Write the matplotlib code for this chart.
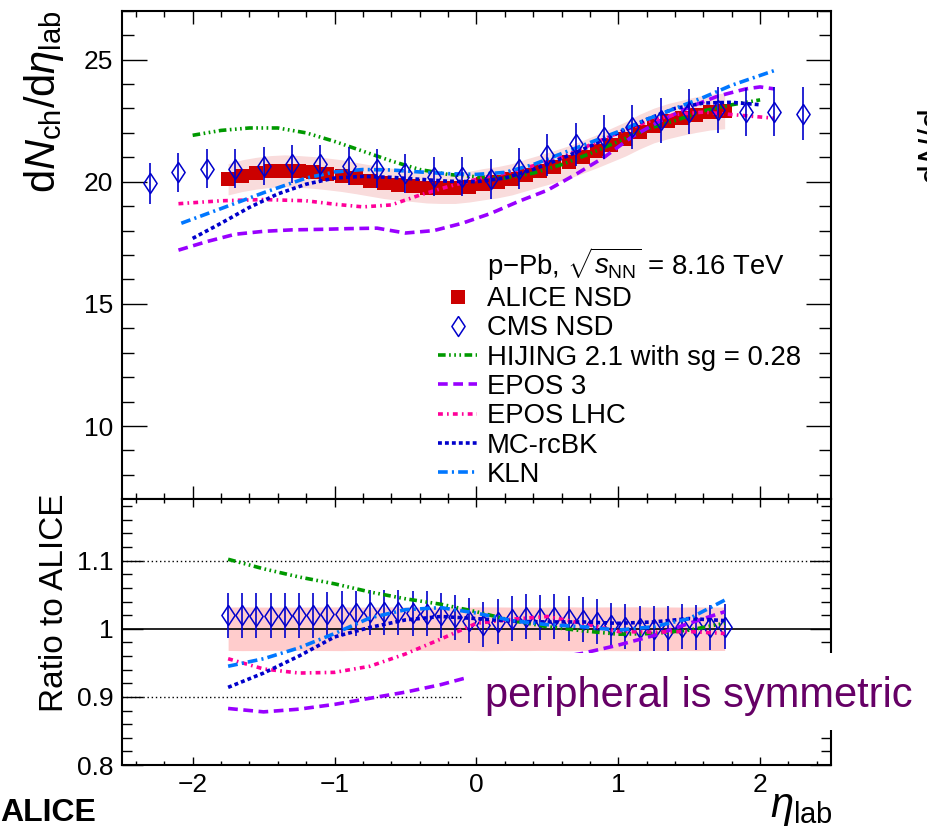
import matplotlib
matplotlib.use("Agg")
import matplotlib.pyplot as plt
from matplotlib.lines import Line2D
from matplotlib.patches import Rectangle

plt.rcParams["font.family"] = ["Liberation Sans", "DejaVu Sans"]
plt.rcParams["mathtext.fontset"] = "custom"
plt.rcParams["mathtext.rm"] = "Liberation Sans"
plt.rcParams["mathtext.it"] = "Liberation Sans:italic"
plt.rcParams["mathtext.bf"] = "Liberation Sans:bold"
plt.rcParams["lines.scale_dashes"] = False

# ---- data ----
alice_x = [-1.75, -1.65, -1.55, -1.45, -1.35, -1.25, -1.15, -1.05, -0.95, -0.85,
           -0.75, -0.65, -0.55, -0.45, -0.35, -0.25, -0.15, -0.05, 0.05, 0.15,
           0.25, 0.35, 0.45, 0.55, 0.65, 0.75, 0.85, 0.95, 1.05, 1.15,
           1.25, 1.35, 1.45, 1.55, 1.65, 1.75]
alice_y = [20.10, 20.25, 20.35, 20.42, 20.45, 20.42, 20.38, 20.32, 20.25, 20.15,
           20.05, 19.95, 19.88, 19.82, 19.76, 19.74, 19.74, 19.80, 19.90, 19.98,
           20.10, 20.28, 20.45, 20.62, 20.80, 21.02, 21.25, 21.50, 21.75, 22.05,
           22.30, 22.48, 22.62, 22.75, 22.85, 22.90]
alice_sys = [0.64, 0.65, 0.65, 0.65, 0.65, 0.65, 0.65, 0.65, 0.65, 0.64,
             0.64, 0.64, 0.64, 0.63, 0.63, 0.63, 0.63, 0.63, 0.64, 0.64,
             0.64, 0.65, 0.65, 0.66, 0.67, 0.67, 0.68, 0.69, 0.70, 0.71,
             0.71, 0.72, 0.72, 0.73, 0.73, 0.73]

cms_x = [-2.3, -2.1, -1.9, -1.7, -1.5, -1.3, -1.1, -0.9, -0.7, -0.5, -0.3, -0.1,
         0.1, 0.3, 0.5, 0.7, 0.9, 1.1, 1.3, 1.5, 1.7, 1.9, 2.1, 2.3]
cms_y = [19.93, 20.38, 20.54, 20.54, 20.65, 20.72, 20.72, 20.65, 20.54, 20.34, 20.20, 20.20,
         20.13, 20.54, 21.09, 21.54, 21.83, 22.24, 22.52, 22.86, 22.93, 22.86, 22.86, 22.79]
cms_err = [0.85, 0.80, 0.80, 0.80, 0.78, 0.78, 0.78, 0.78, 0.78, 0.80, 0.80, 0.80,
           0.82, 0.85, 0.86, 0.88, 0.90, 0.92, 0.92, 0.92, 0.95, 0.98, 1.00, 1.10]

hijing_x = [-2.0, -1.8, -1.6, -1.4, -1.2, -1.0, -0.8, -0.6, -0.4, -0.2, 0.0,
            0.2, 0.4, 0.6, 0.8, 1.0, 1.2, 1.4, 1.6, 1.8, 2.0]
hijing_y = [21.9, 22.1, 22.2, 22.2, 22.0, 21.65, 21.25, 20.85, 20.5, 20.3, 20.2,
            20.15, 20.35, 20.7, 21.15, 21.65, 22.15, 22.5, 22.9, 23.15, 23.35]

epos3_x = [-2.1, -1.9, -1.7, -1.5, -1.3, -1.1, -0.9, -0.7, -0.5, -0.3, -0.1,
           0.1, 0.3, 0.5, 0.7, 0.9, 1.1, 1.3, 1.5, 1.7, 1.9, 2.0, 2.1]
epos3_y = [17.2, 17.55, 17.85, 17.97, 18.03, 18.05, 18.08, 18.1, 17.9, 18.0, 18.3,
           18.7, 19.2, 19.65, 20.3, 21.0, 21.85, 22.5, 23.05, 23.5, 23.8, 23.88, 23.8]

eposlhc_x = [-2.1, -1.8, -1.5, -1.2, -1.0, -0.8, -0.6, -0.4, -0.2, 0.0, 0.2,
             0.4, 0.6, 0.8, 1.0, 1.2, 1.4, 1.6, 1.8, 2.0, 2.1]
eposlhc_y = [19.1, 19.22, 19.27, 19.22, 19.08, 18.97, 19.05, 19.45, 19.8, 20.1, 20.35,
             20.65, 21.0, 21.5, 22.0, 22.45, 22.75, 22.85, 22.75, 22.65, 22.6]

rcbk_x = [-2.0, -1.8, -1.6, -1.4, -1.2, -1.0, -0.8, -0.6, -0.4, -0.2, 0.0,
          0.2, 0.4, 0.6, 0.8, 1.0, 1.2, 1.4, 1.6, 1.8, 2.0]
rcbk_y = [17.68, 18.3, 18.95, 19.5, 19.9, 20.15, 20.22, 20.18, 20.1, 20.02, 20.0,
          20.15, 20.5, 20.95, 21.45, 22.0, 22.55, 23.0, 23.22, 23.25, 23.15]

kln_x = [-2.08, -1.8, -1.5, -1.2, -1.0, -0.8, -0.6, -0.4, -0.2, 0.0, 0.2,
         0.4, 0.6, 0.8, 1.0, 1.2, 1.4, 1.6, 1.8, 2.0, 2.1]
kln_y = [18.3, 18.9, 19.55, 20.15, 20.4, 20.5, 20.48, 20.4, 20.33, 20.3, 20.38,
         20.7, 21.15, 21.6, 22.05, 22.55, 23.0, 23.45, 23.95, 24.35, 24.55]

# ratio panel
cms_ratio = [1.020, 1.020, 1.019, 1.019, 1.019, 1.020, 1.020, 1.021, 1.022, 1.023,
             1.024, 1.024, 1.024, 1.023, 1.022, 1.020, 1.017, 1.012, 1.006, 1.010,
             1.015, 1.018, 1.016, 1.018, 1.015, 1.013, 1.010, 1.005, 1.003, 1.001,
             1.000, 1.000, 1.003, 1.002, 1.002, 1.003]
cms_ratio_err = 0.033

ratio_x = [-1.75, -1.5, -1.25, -1.0, -0.75, -0.5, -0.25, 0.0, 0.25, 0.5, 0.75, 1.0, 1.25, 1.5, 1.75]
hijing_r = [1.102, 1.088, 1.076, 1.066, 1.054, 1.044, 1.036, 1.025, 1.012, 1.003, 0.997, 0.992, 0.993, 0.998, 1.008]
epos3_r = [0.883, 0.878, 0.882, 0.889, 0.898, 0.907, 0.918, 0.932, 0.945, 0.955, 0.964, 0.976, 0.990, 1.008, 1.025]
eposlhc_r = [0.956, 0.941, 0.935, 0.936, 0.945, 0.963, 0.985, 1.008, 1.014, 1.018, 1.008, 0.996, 0.995, 0.996, 0.993]
rcbk_r = [0.914, 0.935, 0.960, 0.988, 1.002, 1.013, 1.018, 1.015, 1.011, 1.010, 1.010, 1.008, 1.010, 1.015, 1.012]
kln_r = [0.945, 0.956, 0.972, 0.993, 1.016, 1.028, 1.031, 1.023, 1.012, 1.006, 1.003, 0.998, 1.003, 1.015, 1.042]

# ---- styles (ROOT-like) ----
models = [
    ("HIJING 2.1 with sg = 0.28", "#009900", (5.5, 2.5, 1.2, 2.5, 1.2, 2.5, 1.2, 2.5), hijing_x, hijing_y, hijing_r),
    ("EPOS 3", "#9900ff", (7, 4), epos3_x, epos3_y, epos3_r),
    ("EPOS LHC", "#ff0099", (3.5, 3, 1.2, 3), eposlhc_x, eposlhc_y, eposlhc_r),
    ("MC-rcBK", "#0000cc", (2.8, 2.2), rcbk_x, rcbk_y, rcbk_r),
    ("KLN", "#0077ff", (7, 3, 1.5, 3), kln_x, kln_y, kln_r),
]
alice_col = "#cc0000"
cms_col = "#0000cc"
lw = 2.6
# open diamond like ROOT marker 27 (a bit wider than mpl 'd')
diamond = [(0, 1), (0.66, 0), (0, -1), (-0.66, 0), (0, 1)]
dsize = 14.4

fig = plt.figure(figsize=(9.27, 8.30), dpi=100)
ax1 = fig.add_axes([0.1313, 0.3984, 0.7652, 0.5887])
ax2 = fig.add_axes([0.1313, 0.0783, 0.7652, 0.3201])

# top panel
lo = [v - s for v, s in zip(alice_y, alice_sys)]
hi = [v + s for v, s in zip(alice_y, alice_sys)]
ax1.fill_between(alice_x, lo, hi, color="#f9dcdc", lw=0, zorder=1)
ax1.plot(alice_x, alice_y, "s", color=alice_col, ms=9.6, mew=0, zorder=2)
for name, col, dash, mx, my, _ in models:
    ax1.plot(mx, my, color=col, lw=lw, dashes=dash, zorder=3)
ax1.errorbar(cms_x, cms_y, yerr=cms_err, fmt="none", ecolor=cms_col, elinewidth=1.2,
             capsize=0, zorder=4)
ax1.plot(cms_x, cms_y, ls="none", marker=diamond, ms=dsize, mfc="none", mec=cms_col,
         mew=1.1, zorder=4)

ax1.set_xlim(-2.5, 2.5)
ax1.set_ylim(7, 27)
ax1.set_yticks([10, 15, 20, 25])
ax1.set_yticks(range(7, 28), minor=True)

# legend
handles = [Line2D([], [], ls="none", marker="none")]
labels = [r"p$-$Pb, $\sqrt{s_{\rm NN}}$ = 8.16 TeV"]
handles.append(Line2D([], [], ls="none", marker="s", color=alice_col, ms=9.6, mew=0))
labels.append("ALICE NSD")
handles.append(Line2D([], [], ls="none", marker=diamond, mfc="none", mec=cms_col, ms=dsize, mew=1.1))
labels.append("CMS NSD")
for name, col, dash, mx, my, _ in models:
    handles.append(Line2D([], [], color=col, lw=lw, dashes=dash))
    labels.append(name)
ax1.legend(handles, labels, loc="upper left", bbox_to_anchor=(0.446, 0.519), frameon=False,
           fontsize=19.8, handlelength=1.42, handletextpad=0.36, borderpad=0,
           borderaxespad=0, labelspacing=0.12)

# ratio panel
r_lo = [1 - s / v for v, s in zip(alice_y, alice_sys)]
r_hi = [1 + s / v for v, s in zip(alice_y, alice_sys)]
ax2.fill_between(alice_x, r_lo, r_hi, color="#ffcccc", lw=0, zorder=1)
ax2.axhline(1.0, color="black", lw=1.2, zorder=2)
ax2.axhline(1.1, color="black", lw=1.0, ls=(0, (1, 2)), zorder=2)
ax2.axhline(0.9, color="black", lw=1.0, ls=(0, (1, 2)), zorder=2)
ax2.errorbar(alice_x, cms_ratio, yerr=cms_ratio_err, fmt="none", ecolor=cms_col,
             elinewidth=1.2, capsize=0, zorder=3)
ax2.plot(alice_x, cms_ratio, ls="none", marker=diamond, ms=dsize, mfc="none", mec=cms_col,
         mew=1.1, zorder=3)
for name, col, dash, _, _, r in models:
    ax2.plot(ratio_x, r, color=col, lw=lw, dashes=dash, zorder=4)

ax2.set_xlim(-2.5, 2.5)
ax2.set_ylim(0.8, 1.19)
ax2.set_yticks([0.8, 0.9, 1.0, 1.1])
ax2.set_yticklabels(["0.8", "0.9", "1", "1.1"])
ax2.set_yticks([0.8 + 0.02 * i for i in range(20)], minor=True)

for ax in (ax1, ax2):
    ax.set_xticks([-2, -1, 0, 1, 2])
    ax.set_xticks([-2.4 + 0.2 * i for i in range(25)], minor=True)
    ax.tick_params(which="both", direction="in", top=True, right=True, width=1,
                   labelsize=19, pad=6)
    for sp in ax.spines.values():
        sp.set_linewidth(1.5)

ax1.tick_params(labelbottom=False)
ax1.tick_params(axis="y", which="major", length=18)
ax1.tick_params(axis="y", which="minor", length=8.6)
ax1.tick_params(axis="x", which="major", length=9.4)
ax1.tick_params(axis="x", which="minor", length=4.3)
ax2.tick_params(axis="y", which="major", length=15)
ax2.tick_params(axis="y", which="minor", length=7.2)
ax2.tick_params(axis="x", which="major", length=6)
ax2.tick_params(axis="x", which="minor", length=3)
ax2.xaxis.set_major_formatter(plt.FuncFormatter(lambda v, p: f"{v:.0f}".replace("-", "\u2212")))

# axis titles (ROOT style placement)
fig.text(0.048, 0.988, r"d$N_{\rm ch}$/d$\eta_{\rm lab}$", rotation=90, fontsize=30,
         ha="center", va="top")
fig.text(0.0593, 0.2735, "Ratio to ALICE", rotation=90, fontsize=24, ha="center", va="center")
fig.text(0.898, 0.002, r"$\eta_{\rm lab}$", fontsize=30, ha="right", va="bottom")
fig.text(0.0, 0.003, "ALICE", fontsize=23, fontweight="bold", ha="left", va="bottom")

# label of the neighbouring panel, cut by the right edge as in the original
fig.text(0.99, 0.777, r"d$N$/d", rotation=90, fontsize=26, ha="left", va="bottom")

# annotation on a white box
fig.add_artist(Rectangle((0.5005, 0.1205), 0.5, 0.0928, transform=fig.transFigure,
                         facecolor="white", edgecolor="none", zorder=5))
fig.text(0.523, 0.148, "peripheral is symmetric", fontsize=30, color="#660066",
         ha="left", va="baseline", zorder=6)

plt.savefig("out.png", dpi=100)
